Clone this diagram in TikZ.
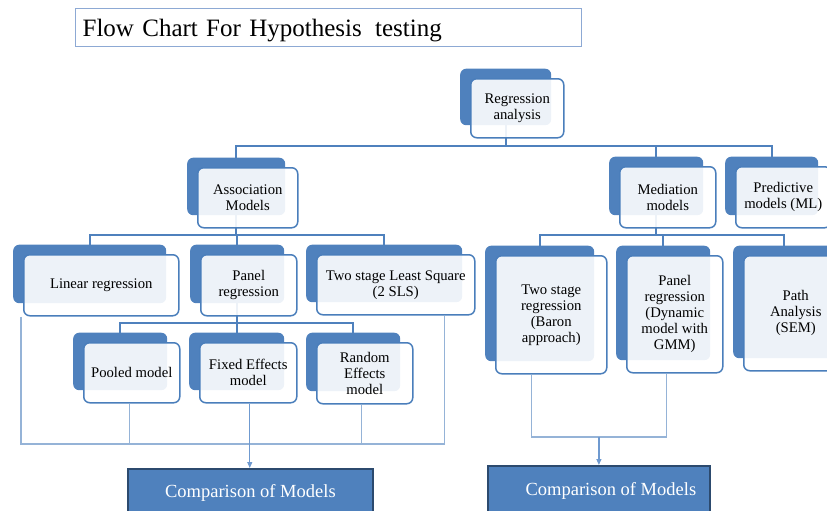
\documentclass[tikz,border=0pt]{standalone}
\usepackage{fontspec}
\setmainfont{Liberation Serif}
\usetikzlibrary{arrows.meta,backgrounds}

\definecolor{accent}{HTML}{4F81BD}
\definecolor{frame}{HTML}{4A7EBB}
\definecolor{lightwire}{HTML}{95B3D7}
\definecolor{arrowwire}{HTML}{6F9AD0}
\definecolor{navy}{HTML}{2C4A6E}
\definecolor{titleframe}{HTML}{8DA9D4}

\tikzset{
  backbox/.style={fill=accent, draw=none, rounded corners=6pt, inner sep=0pt},
  frontbox/.style={draw=frame, line width=1.5pt, fill=white, fill opacity=0.9,
    text opacity=1, rounded corners=6pt, inner sep=0pt, align=center,
    font=\fontsize{14.7}{16}\selectfont},
  tree/.style={draw=accent, line width=2pt},
  feed/.style={draw=lightwire, line width=1.2pt},
  feedarrow/.style={draw=arrowwire, line width=1.2pt,
    -{Triangle[length=6pt,width=5pt]}},
  result/.style={fill=accent, draw=navy, line width=1.8pt, text=white,
    inner sep=0pt, font=\fontsize{18.5}{22}\selectfont},
  titlebox/.style={draw=titleframe, line width=1.2pt, fill=white,
    inner xsep=7pt, inner ysep=0pt, text width=492pt, align=left,
    text height=21pt, text depth=3pt,
    minimum height=38pt, font=\fontsize{25}{28}\selectfont},
}

% Two-layer box: a solid blue card behind (name#1b) and a white card in front (name#1)
% #2,#3 = top-left of the front card, #4,#5 = bottom-right of the front card
\newcommand\bentbox[6]{%
  \node[backbox, anchor=north west, minimum width={#4-#2-2},
        minimum height={#5-#3-2.5}] (#1b) at ({#2-10},{9.5-#3}) {};
  \node[frontbox, anchor=north west, minimum width={#4-#2},
        minimum height={#5-#3}] (#1) at (#2,-#3) {#6};
}

\begin{document}
\begin{tikzpicture}[x=1pt,y=1pt]
\useasboundingbox (0,0) rectangle (827,-511);
\clip (0,0) rectangle (827,-511);

% title
\node[titlebox, anchor=north west] (title) at (75,-8)
  {Flow Chart For Hypothesis\hspace{0.2em} testing};

% level 1
\bentbox{reg}{470}{78}{563}{137}{Regression\\analysis}
% level 2
\bentbox{assoc}{197}{167}{297}{227}{Association\\Models}
\bentbox{med}{619}{166}{715}{227}{Mediation\\models}
\bentbox{pred}{735}{166}{830}{227}{Predictive\\models (ML)}
% level 3, association side
\bentbox{lin}{23}{254}{178}{315}{Linear regression}
\bentbox{panel}{200}{254}{296}{315}{Panel\\regression}
\bentbox{tsls}{316}{254}{474}{314}{Two stage Least Square\\(2 SLS)}
% level 3, mediation side
\bentbox{tsr}{495}{255}{606}{373}{Two stage\\regression\\(Baron\\approach)}
\bentbox{pdyn}{626}{255}{722}{372}{Panel\\regression\\(Dynamic\\model with\\GMM)}
\bentbox{path}{743}{255}{847}{370}{Path\\Analysis\\(SEM)}
% level 4, panel models
\bentbox{pool}{83}{342}{179}{402}{Pooled model}
\bentbox{fixed}{199}{342}{296}{402}{Fixed Effects\\model}
\bentbox{rand}{316}{342}{412}{403}{Random\\Effects\\model}

% comparison boxes
\node[result, anchor=north west, minimum width=245, minimum height=48] (cmpL)
  at (127,-468) {Comparison of Models};
\node[result, anchor=north west, minimum width=222, minimum height=50] (cmpR)
  at (487,-465) {\hspace*{24pt}Comparison of Models};

% junction rails
\coordinate (railA) at (0,-146);
\coordinate (railB) at (0,-235);
\coordinate (railC) at (0,-323);
\coordinate (sumL) at (0,-444);
\coordinate (sumR) at (0,-437);

\begin{pgfonlayer}{background}
  % hierarchy connectors
  \draw[tree] (regb.south) -- (regb.south |- railA);
  \draw[tree] (assocb.north) -- (assocb.north |- railA) -| (predb.north);
  \draw[tree] (medb.north) -- (medb.north |- railA);

  \draw[tree] (assocb.south) -- (assocb.south |- railB);
  \draw[tree] (linb.north) -- (linb.north |- railB) -| (tslsb.north);
  \draw[tree] (panelb.north) -- (panelb.north |- railB);

  \draw[tree] (medb.south) -- (medb.south |- railB);
  \draw[tree] (tsrb.north) -- (tsrb.north |- railB) -| (pathb.north);
  \draw[tree] (pdynb.north) -- (pdynb.north |- railB);

  \draw[tree] (panelb.south) -- (panelb.south |- railC);
  \draw[tree] (poolb.north) -- (poolb.north |- railC) -| (randb.north);
  \draw[tree] (fixedb.north) -- (fixedb.north |- railC);

  % collecting lines, association side
  \draw[feed] ([xshift=-2pt]lin.south west) -- ([xshift=-2pt]lin.south west |- sumL)
    -| ([xshift=-31pt]tsls.south east);
  \draw[feed] ([xshift=-2pt]pool.south) -- ([xshift=-2pt]pool.south |- sumL);
  \draw[feed] ([xshift=-3pt]rand.south) -- ([xshift=-3pt]rand.south |- sumL);
  \draw[feedarrow] ([xshift=1.5pt]fixed.south) -- ([xshift=1.5pt]fixed.south |- cmpL.north);

  % collecting lines, mediation side
  \draw[feed] ([xshift=-19.5pt]tsr.south) -- ([xshift=-19.5pt]tsr.south |- sumR)
    -| ([xshift=-8pt]pdyn.south);
  \draw[feedarrow] (cmpR.north |- sumR) -- (cmpR.north);
\end{pgfonlayer}
\end{tikzpicture}
\end{document}
